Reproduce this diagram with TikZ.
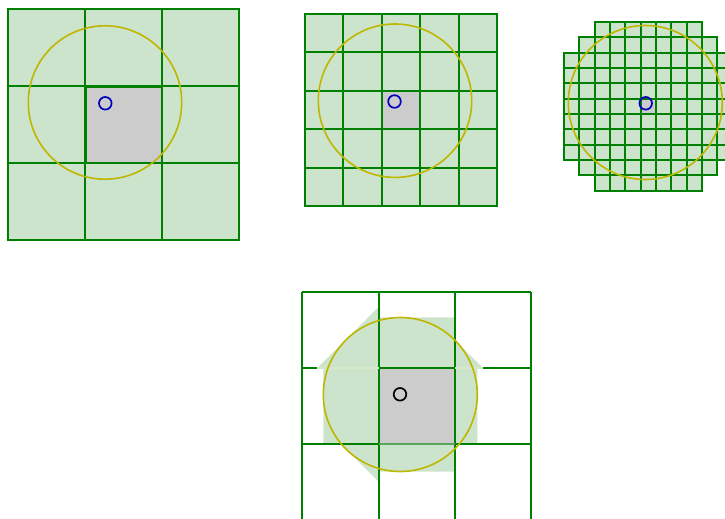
\documentclass[tikz,border=0pt]{standalone}
\definecolor{cellgreen}{RGB}{204,228,204}
\definecolor{linegreen}{RGB}{0,128,0}
\definecolor{fadegreen}{RGB}{214,232,200}
\definecolor{hitgray}{RGB}{204,204,204}
\definecolor{ringyellow}{RGB}{190,182,0}
\definecolor{probeblue}{RGB}{0,0,190}
\tikzset{
  gridline/.style={draw=linegreen,line width=2pt},
  hitbox/.style={fill=hitgray,draw=linegreen,line width=2pt},
  rangering/.style={draw=ringyellow,line width=1.6pt},
  probering/.style={draw=probeblue,line width=1.7pt},
}
\begin{document}
\begin{tikzpicture}[x=1pt,y=-1pt]
    \useasboundingbox (0,0) rectangle (725,519);

    % coarse grid, 3x3
    \fill[cellgreen] (8,9) rectangle (239,240);
    \foreach \i in {0,1,2}
      \foreach \j in {0,1,2}
        \draw[gridline] (8+77*\i,9+77*\j) rectangle ++(77,77);
    \path[hitbox] (86,87) rectangle (162,163);
    \draw[rangering] (105,102.5) circle (76.7pt);
    \draw[probering] (105.3,103.3) circle (6.3pt);

    % medium grid, 5x5
    \fill[cellgreen] (305,14) rectangle (497,206);
    \foreach \i in {0,...,4}
      \foreach \j in {0,...,4} {
        \pgfmathtruncatemacro\xa{round(305+38.4*\i)}
        \pgfmathtruncatemacro\xb{round(305+38.4*(\i+1))}
        \pgfmathtruncatemacro\ya{round(14+38.4*\j)}
        \pgfmathtruncatemacro\yb{round(14+38.4*(\j+1))}
        \draw[gridline] (\xa,\ya) rectangle (\xb,\yb);
      }
    \path[hitbox] (382,91) rectangle (420,129);
    \draw[rangering] (395,100.7) circle (76.7pt);
    \draw[probering] (394.5,101.5) circle (6.3pt);

    % fine grid, corners trimmed
    \foreach \r/\a/\b in {0/2/8,1/1/9,2/0/10,3/0/10,4/0/10,5/0/10,6/0/10,7/0/10,8/0/10,9/1/9,10/2/8}
      \fill[cellgreen] (564+15.33*\a,22+15.33*\r) rectangle (579.33+15.33*\b,37.33+15.33*\r);
    \foreach \r/\a/\b in {0/2/8,1/1/9,2/0/10,3/0/10,4/0/10,5/0/10,6/0/10,7/0/10,8/0/10,9/1/9,10/2/8}
      \foreach \c in {\a,...,\b} {
        \pgfmathtruncatemacro\xa{round(564+15.33*\c)}
        \pgfmathtruncatemacro\xb{round(564+15.33*(\c+1))}
        \pgfmathtruncatemacro\ya{round(22+15.33*\r)}
        \pgfmathtruncatemacro\yb{round(22+15.33*(\r+1))}
        \draw[gridline,line width=1.8pt] (\xa,\ya) rectangle (\xb,\yb);
      }
    \path[hitbox,line width=1.8pt] (641,99) rectangle (656,114);
    \draw[rangering] (645.3,102.5) circle (77pt);
    \draw[probering] (645.7,103.3) circle (6.3pt);

    % search region below
    \fill[cellgreen] (379,306.6) -- (379,317.3) -- (455,317.3) -- (455,340.3)
      -- (483,368) -- (477.3,368) -- (477.3,444) -- (459.7,444) -- (455,448.7)
      -- (455,471.7) -- (379,471.7) -- (379,482.1) -- (340.9,444) -- (323.3,444)
      -- (323.3,368) -- (317.3,368) -- cycle;
    \fill[hitgray] (379,368) rectangle (455,444);
    \foreach \x in {302,379,455,531}
      \draw[gridline] (\x,292) -- (\x,525);
    \draw[gridline] (302,292) -- (531,292);
    \draw[gridline] (302,368) -- (317.3,368);
    \draw[gridline] (379,368) -- (455,368);
    \draw[gridline] (483,368) -- (531,368);
    \draw[gridline,fadegreen] (317.3,368) -- (379,368);
    \draw[gridline,fadegreen] (455,368) -- (483,368);
    \draw[gridline] (302,444) -- (379,444);
    \draw[gridline] (455,444) -- (531,444);
    \draw[gridline,draw=gray!70!green] (379,444) -- (455,444);
    \draw[rangering] (400.3,394.5) circle (77pt);
    \draw[line width=1.7pt] (400,394.3) circle (6.3pt);
\end{tikzpicture}
\end{document}
